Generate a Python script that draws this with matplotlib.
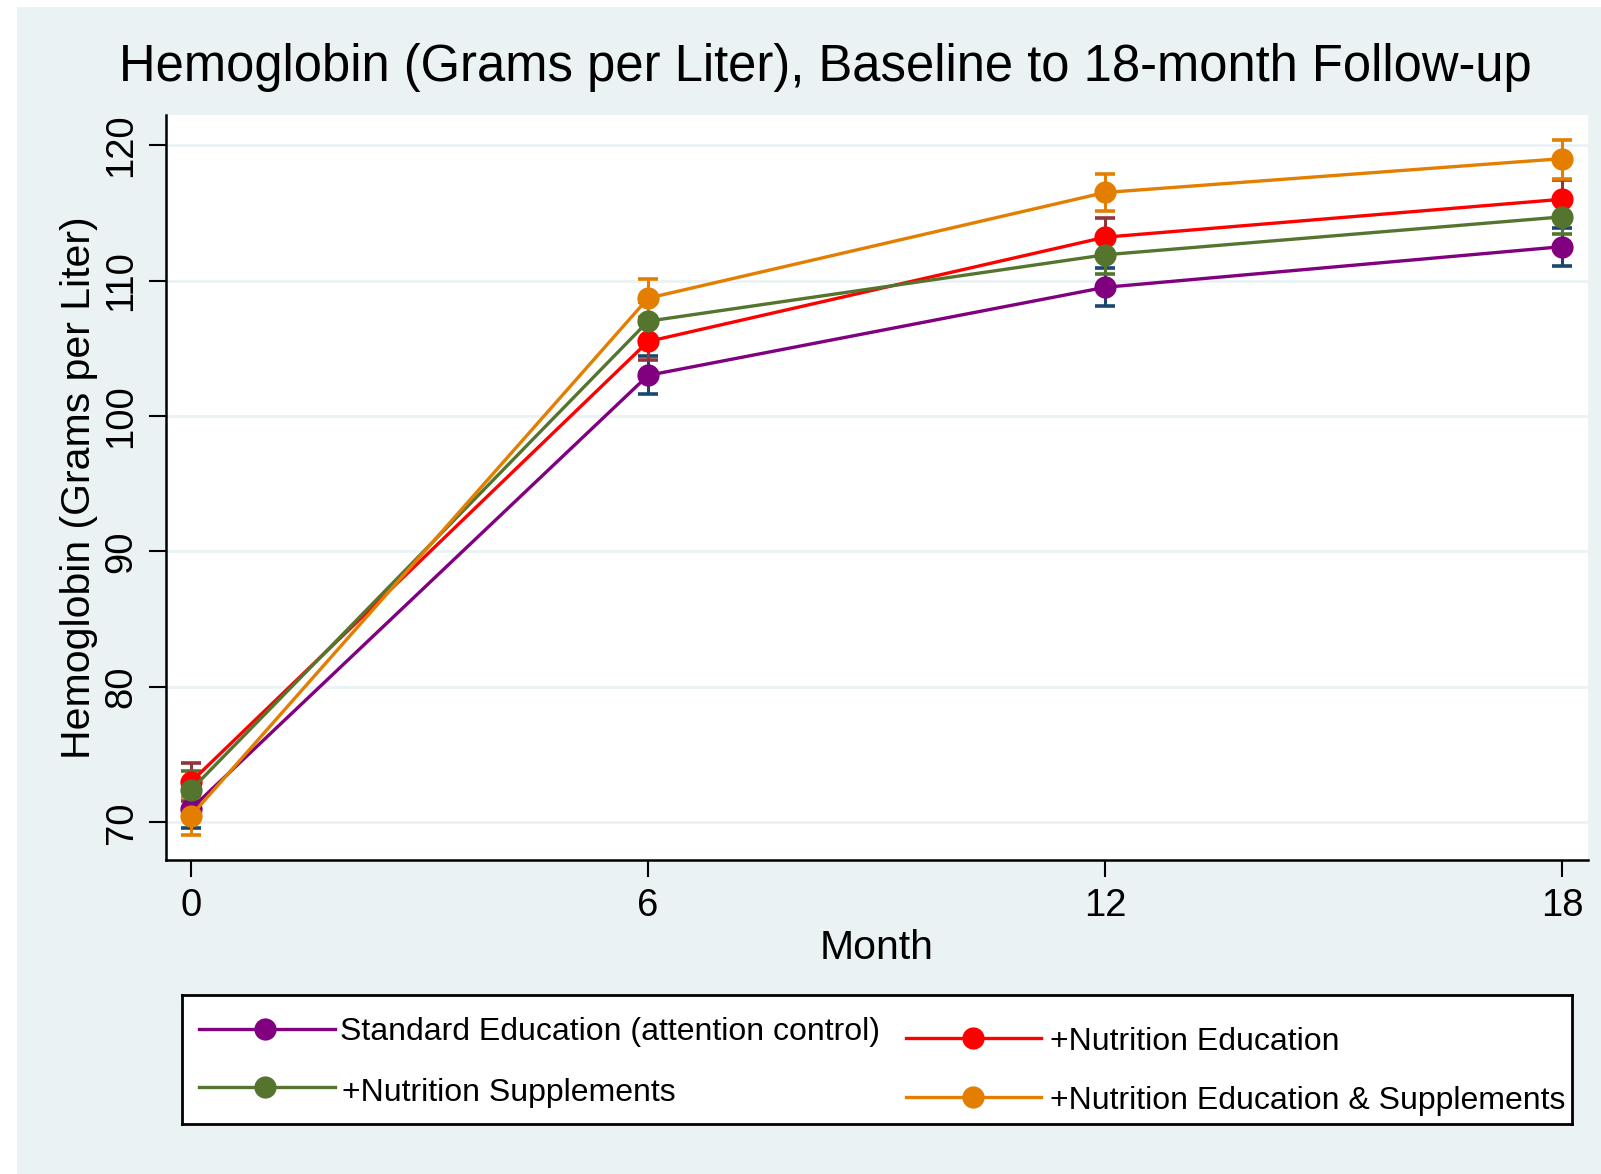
import numpy as np
import matplotlib.pyplot as plt
from matplotlib.patches import Rectangle

plt.rcParams['font.family'] = ['Liberation Sans', 'DejaVu Sans']

# ---------------- data ----------------
months = [0, 6, 12, 18]

series_names = [
    'Standard Education (attention control)',
    '+Nutrition Education',
    '+Nutrition Supplements',
    '+Nutrition Education & Supplements',
]

std_mean = [71.0, 103.0, 109.5, 112.5]
std_lo = [69.6, 101.6, 108.1, 111.1]
std_hi = [72.4, 104.4, 110.9, 113.9]

edu_mean = [73.0, 105.5, 113.2, 116.0]
edu_lo = [71.6, 104.1, 111.8, 114.6]
edu_hi = [74.4, 106.9, 114.6, 117.4]

sup_mean = [72.4, 107.0, 111.9, 114.7]
sup_lo = [71.0, 105.6, 110.5, 113.4]
sup_hi = [73.8, 108.4, 113.3, 116.0]

both_mean = [70.5, 108.7, 116.5, 119.0]
both_lo = [69.1, 107.3, 115.1, 117.5]
both_hi = [71.9, 110.1, 117.9, 120.4]

yticks = [70, 80, 90, 100, 110, 120]
xticks = [0, 6, 12, 18]

# ---------------- style ----------------
BG = '#eaf2f3'
line_colors = ['#800080', '#ff0000', '#55752f', '#e37e00']
cap_colors = ['#1a476f', '#90353b', '#55752f', '#e37e00']

W, H = 1601, 1174
fig = plt.figure(figsize=(W / 100, H / 100), dpi=100)
fig.patch.set_facecolor('white')
fig.patches.append(Rectangle((17 / W, 0), 1 - 17 / W, (H - 7) / H,
                             transform=fig.transFigure, facecolor=BG,
                             edgecolor='none', zorder=-10))


def fx(px):
    return px / W


def fy(py):
    return (H - py) / H


ax = fig.add_axes([fx(166), fy(860), fx(1588) - fx(166), fy(115) - fy(860)])
ax.set_zorder(2)
ax.set_facecolor('white')

means = [std_mean, edu_mean, sup_mean, both_mean]
lows = [std_lo, edu_lo, sup_lo, both_lo]
highs = [std_hi, edu_hi, sup_hi, both_hi]

# confidence interval caps
for lo, hi, cc in zip(lows, highs, cap_colors):
    m = np.array(months)
    lo = np.array(lo)
    hi = np.array(hi)
    ax.vlines(m, lo, hi, color=cc, lw=2.2, zorder=2)
    ax.errorbar(m, (lo + hi) / 2, yerr=(hi - lo) / 2, fmt='none',
                ecolor=cc, elinewidth=0, capsize=7.5, capthick=2.6, zorder=2)

for mean, lc in zip(means, line_colors):
    ax.plot(months, mean, color=lc, lw=2.4, marker='o', markersize=16,
            markeredgewidth=0, zorder=3)

ax.set_xlim(-0.33, 18.34)
ax.set_ylim(67.22, 122.22)
ax.set_xticks(xticks)
ax.set_yticks(yticks)
ax.set_yticklabels([str(v) for v in yticks], rotation=90, va='center')
ax.tick_params(axis='both', length=12, width=1.5, labelsize=27.5,
               color='black')
ax.tick_params(axis='x', pad=8)
ax.tick_params(axis='y', pad=7)
ax.grid(axis='y', color=BG, lw=2)
ax.set_axisbelow(True)
for s in ['top', 'right']:
    ax.spines[s].set_visible(False)
for s in ['left', 'bottom']:
    ax.spines[s].set_linewidth(1.8)

ax.set_xlabel('Month', fontsize=29.5, labelpad=4)
ax.set_ylabel('Hemoglobin (Grams per Liter)', fontsize=29.5, labelpad=4)

fig.text(0.5 * (fx(120) + fx(1530)), fy(68),
         'Hemoglobin (Grams per Liter), Baseline to 18-month Follow-up',
         ha='center', va='center', fontsize=36.5)

# ---------------- legend (drawn by hand, Stata layout) ----------------
lx0, lx1, ly0, ly1 = 182, 1572, 995, 1124
lax = fig.add_axes([fx(lx0), fy(ly1), fx(lx1) - fx(lx0), fy(ly0) - fy(ly1)])
lax.set_zorder(2)
lax.set_xlim(lx0, lx1)
lax.set_ylim(ly1, ly0)
lax.set_xticks([])
lax.set_yticks([])
lax.set_facecolor('white')
for s in lax.spines.values():
    s.set_linewidth(2)

# (line start, line end, marker x, text x, line y, text y) per entry
entries = [
    (199, 335, 265, 340, 1029, 1032),
    (906, 1041, 973, 1050, 1038, 1042),
    (199, 335, 265, 342, 1087, 1093),
    (906, 1041, 973, 1050, 1097, 1101),
]
for k, (x0, x1, xm, xt, yy, yt) in enumerate(entries):
    lax.plot([x0, x1], [yy, yy], color=line_colors[k], lw=2.4)
    lax.plot([xm], [yy], 'o', color=line_colors[k], markersize=16,
             markeredgewidth=0)
    lax.text(xt, yt, series_names[k], fontsize=23, va='center', ha='left')

fig.savefig('out.png', dpi=100)
